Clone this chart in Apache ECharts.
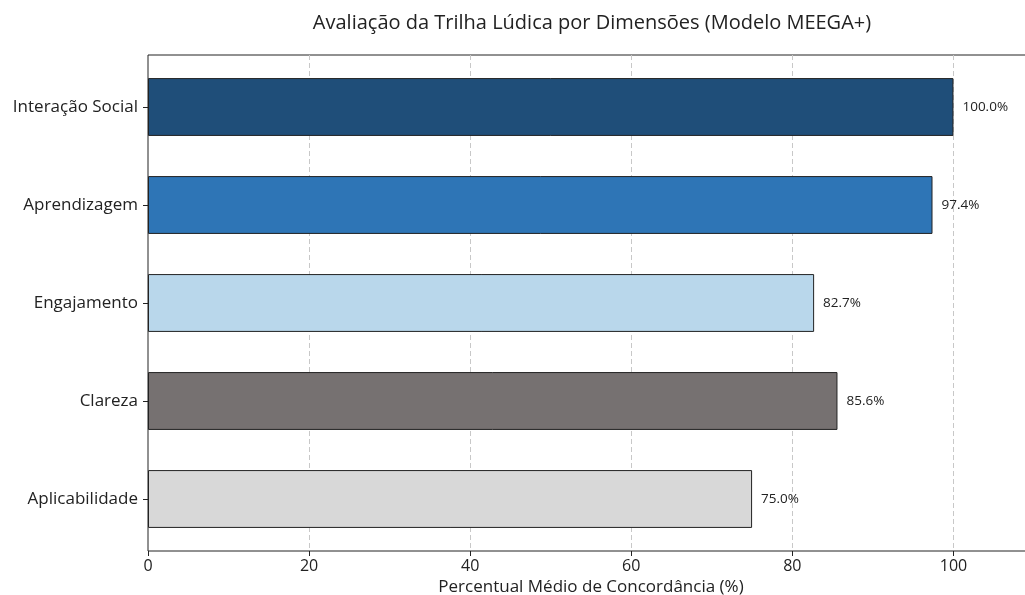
<!DOCTYPE html>
<html>
<head>
<meta charset="utf-8">
<script src="https://cdn.jsdelivr.net/npm/echarts@6/dist/echarts.min.js"></script>
<style>
  html, body { margin: 0; padding: 0; background: #fff; }
  #chart { width: 1025px; height: 595px; }
</style>
</head>
<body>
<div id="chart"></div>
<script>
// dados
const dimensoes = ['Interação Social', 'Aprendizagem', 'Engajamento', 'Clareza', 'Aplicabilidade']
const percentuais = [100.0, 97.4, 82.7, 85.6, 75.0]
const cores = ['#1f4e79', '#2e75b6', '#b9d7eb', '#767171', '#d8d8d8']
const xTicks = [0, 20, 40, 60, 80, 100]

const fonte = 'Open Sans, Inter, sans-serif'
const chart = echarts.init(document.getElementById('chart'))
chart.setOption({
  animation: false,
  title: {
    text: 'Avaliação da Trilha Lúdica por Dimensões (Modelo MEEGA+)',
    left: 587,
    textAlign: 'center',
    top: 8,
    textStyle: { fontFamily: fonte, fontSize: 20, fontWeight: 'normal', color: '#222' }
  },
  grid: [
    // área dos dados (margem interna como no matplotlib)
    { left: 148, right: -9, top: 58, bottom: 47, outerBoundsMode: 'none', containLabel: false },
    // moldura + grade
    { left: 148, right: -9, top: 55, bottom: 44, outerBoundsMode: 'none', containLabel: false,
      show: true, borderColor: '#222', borderWidth: 1, z: 0 }
  ],
  xAxis: [{
    type: 'value',
    gridIndex: 0,
    min: 0, max: 110, interval: 20,
    offset: 3,
    name: 'Percentual Médio de Concordância (%)',
    nameLocation: 'middle',
    nameGap: 26,
    nameTextStyle: { fontFamily: fonte, fontSize: 17, color: '#222' },
    axisLine: { show: false },
    axisTick: { show: true, length: 5, lineStyle: { color: '#222' } },
    axisLabel: {
      fontFamily: fonte, fontSize: 16, color: '#222', margin: 7,
      formatter: v => xTicks.includes(v) ? String(v) : ''
    },
    splitLine: { show: false }
  }, {
    type: 'value', gridIndex: 1, min: 0, max: 110, interval: 20,
    axisLine: { show: false }, axisTick: { show: false }, axisLabel: { show: false },
    splitLine: { show: true, showMinLine: false, lineStyle: { color: '#c8c8c8', type: [5, 3] } }
  }],
  yAxis: [{
    type: 'category',
    gridIndex: 0,
    data: dimensoes,
    inverse: true,
    axisLine: { show: false },
    axisTick: { show: true, length: 5, alignWithLabel: true, lineStyle: { color: '#222' } },
    axisLabel: { fontFamily: fonte, fontSize: 17, color: '#222', margin: 10 },
    splitLine: { show: false }
  }, {
    type: 'category', gridIndex: 1, data: dimensoes, show: false
  }],
  series: [{
    type: 'bar',
    xAxisIndex: 0,
    yAxisIndex: 0,
    z: 3,
    barCategoryGap: '41%',
    data: percentuais.map((v, i) => ({
      value: v,
      itemStyle: { color: cores[i] }
    })),
    itemStyle: { borderColor: '#222', borderWidth: 1 },
    label: {
      show: true,
      position: 'right',
      distance: 9,
      fontFamily: fonte,
      fontSize: 13.5,
      color: '#222',
      formatter: p => p.value.toFixed(1) + '%'
    }
  }]
})
</script>
</body>
</html>
